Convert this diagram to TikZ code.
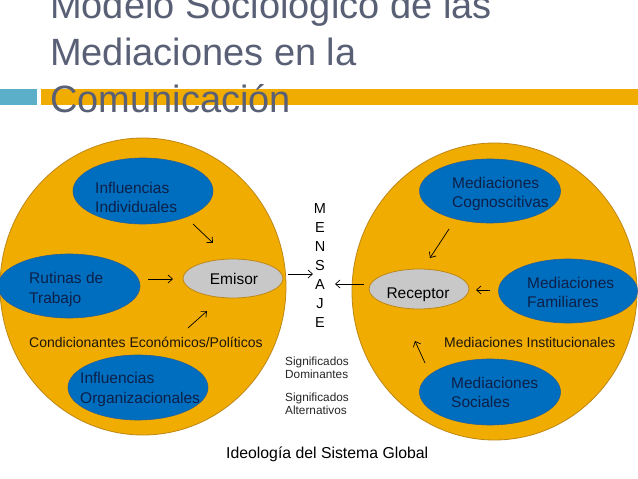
\documentclass[tikz,border=0pt]{standalone}
\usepackage{fontspec}
\setmainfont{Liberation Sans}
\usetikzlibrary{shapes.geometric,arrows.meta}
\definecolor{titlecol}{RGB}{89,96,118}
\definecolor{barcyan}{RGB}{91,175,200}
\definecolor{barorange}{RGB}{240,172,0}
\definecolor{bigfill}{RGB}{240,172,0}
\definecolor{bigedge}{RGB}{190,135,20}
\definecolor{bluefill}{RGB}{0,110,190}
\definecolor{blueedge}{RGB}{40,95,150}
\definecolor{bluetext}{RGB}{12,32,72}
\definecolor{grayfill}{RGB}{200,200,200}
\definecolor{darktext}{RGB}{30,22,10}
\tikzset{
  bigell/.style={ellipse, draw=bigedge, fill=bigfill, line width=0.8pt, inner sep=0pt},
  blueell/.style={ellipse, draw=blueedge, fill=bluefill, line width=0.6pt, inner sep=0pt},
  grayell/.style={ellipse, draw=bigedge, fill=grayfill, line width=0.8pt, inner sep=0pt},
  titletxt/.style={anchor=base west, inner sep=0pt, text=titlecol, font=\fontsize{38}{46}\selectfont},
  bluetxt/.style={anchor=base west, inner sep=0pt, text=bluetext, font=\fontsize{15.5}{19}\selectfont},
  midtxt/.style={anchor=base west, inner sep=0pt, text=darktext, font=\fontsize{14}{17}\selectfont},
  smalltxt/.style={anchor=base west, inner sep=0pt, text=black!85, font=\fontsize{11.8}{13}\selectfont},
  lettxt/.style={anchor=base, inner sep=0pt, text=black, font=\fontsize{14.5}{17}\selectfont},
  centtxt/.style={anchor=base, inner sep=0pt, text=black, font=\fontsize{15.5}{19}\selectfont},
  arr/.style={-{Straight Barb[length=4.5pt,width=8pt]}, line width=0.7pt, black}
}
\begin{document}
\begin{tikzpicture}[x=1pt,y=-1pt]
\useasboundingbox (0,0) rectangle (638,479);
\fill[white] (0,0) rectangle (638,479);
% title bar
\fill[barcyan] (0,89) rectangle (37,105);
\fill[barorange] (41,89) rectangle (638,105);
\node[titletxt] (t1) at (50,18) {Modelo Sociológico de las};
\node[titletxt] (t2) at (50,65) {Mediaciones en la};
\node[titletxt] (t3) at (50,112) {Comunicación};
% big ellipses
\node[bigell, minimum width=286pt, minimum height=297pt] (L) at (143,286.5) {};
\node[bigell, minimum width=285pt, minimum height=297pt] (R) at (494.5,291.5) {};
% blue ellipses
\node[blueell, minimum width=140pt, minimum height=66pt] (ii) at (143,191) {};
\node[blueell, minimum width=142pt, minimum height=64pt] (rt) at (69,286) {};
\node[blueell, minimum width=140pt, minimum height=65pt] (io) at (138,387.5) {};
\node[blueell, minimum width=141pt, minimum height=64pt] (mc) at (490,191) {};
\node[blueell, minimum width=139pt, minimum height=64pt] (mf) at (568,291) {};
\node[blueell, minimum width=141pt, minimum height=66pt] (ms) at (490,392) {};
% gray ellipses
\node[grayell, minimum width=100pt, minimum height=39pt] (em) at (233,278.5) {};
\node[grayell, minimum width=100pt, minimum height=40pt] (re) at (419,289) {};
% texts in blue ellipses
\node[bluetxt] (ii1) at (95,193) {Influencias};
\node[bluetxt] (ii2) at (95,212) {Individuales};
\node[bluetxt] (rt1) at (29,283) {Rutinas de};
\node[bluetxt] (rt2) at (29,303) {Trabajo};
\node[bluetxt] (io1) at (80,383) {Influencias};
\node[bluetxt] (io2) at (80,403) {Organizacionales};
\node[bluetxt] (mc1) at (452,188) {Mediaciones};
\node[bluetxt] (mc2) at (452,207) {Cognoscitivas};
\node[bluetxt] (mf1) at (527,288) {Mediaciones};
\node[bluetxt] (mf2) at (527,307) {Familiares};
\node[bluetxt] (ms1) at (451,388) {Mediaciones};
\node[bluetxt] (ms2) at (451,407) {Sociales};
% gray texts
\node[centtxt] (emt) at (234,284) {Emisor};
\node[centtxt] (ret) at (418,298) {Receptor};
% other labels
\node[midtxt] (cond) at (29,347) {Condicionantes Económicos/Políticos};
\node[midtxt] (inst) at (444,347) {Mediaciones Institucionales};
\node[smalltxt] (s1) at (285,365) {Significados};
\node[smalltxt] (s2) at (285,378) {Dominantes};
\node[smalltxt] (s3) at (285,401) {Significados};
\node[smalltxt] (s4) at (285,414) {Alternativos};
\node[anchor=base west, inner sep=0pt, font=\fontsize{15.8}{19}\selectfont] (ideo) at (226,458) {Ideología del Sistema Global};
% MENSAJE
\node[lettxt] (m1) at (320,213) {M};
\node[lettxt] (m2) at (320,232) {E};
\node[lettxt] (m3) at (320,251) {N};
\node[lettxt] (m4) at (320,270) {S};
\node[lettxt] (m5) at (320,289) {A};
\node[lettxt] (m6) at (320,308) {J};
\node[lettxt] (m7) at (320,327) {E};
% arrow end points
\coordinate (a1s) at (193,224); \coordinate (a1e) at (213,243);
\coordinate (a2s) at (148,279); \coordinate (a2e) at (173,279);
\coordinate (a3s) at (188,328); \coordinate (a3e) at (207,311);
\coordinate (a4s) at (288,274); \coordinate (a4e) at (313,274);
\coordinate (a5s) at (364,284); \coordinate (a5e) at (335,284);
\coordinate (a6s) at (449,229); \coordinate (a6e) at (430,258);
\coordinate (a7s) at (490,290); \coordinate (a7e) at (476,290);
\coordinate (a8s) at (425,363); \coordinate (a8e) at (415,341);
\draw[arr] (a1s) -- (a1e);
\draw[arr] (a2s) -- (a2e);
\draw[arr] (a3s) -- (a3e);
\draw[arr] (a4s) -- (a4e);
\draw[arr] (a5s) -- (a5e);
\draw[arr] (a6s) -- (a6e);
\draw[arr] (a7s) -- (a7e);
\draw[arr] (a8s) -- (a8e);
\end{tikzpicture}
\end{document}
